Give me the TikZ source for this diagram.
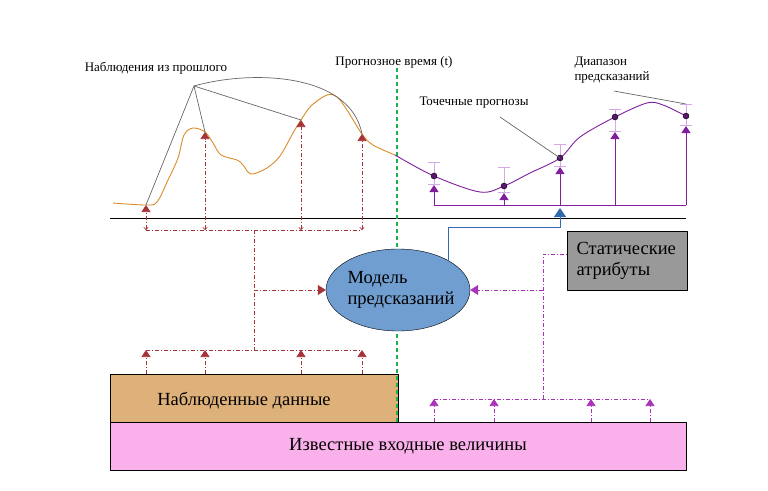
\documentclass[tikz,border=0pt]{standalone}
\usepackage{fontspec}
\setmainfont{Liberation Serif}
\usetikzlibrary{arrows.meta,shapes.geometric}
\definecolor{obsred}{rgb}{0.65,0.2,0.22}
\definecolor{fcpurple}{rgb}{0.5,0.12,0.62}
\definecolor{inpurple}{rgb}{0.66,0.2,0.72}
\definecolor{barlilac}{rgb}{0.84,0.66,0.9}
\definecolor{curveorange}{rgb}{0.85,0.55,0.16}
\definecolor{modelblue}{rgb}{0.44,0.62,0.82}
\definecolor{linkblue}{rgb}{0.2,0.42,0.7}
\definecolor{obstan}{rgb}{0.87,0.69,0.48}
\definecolor{knownpink}{rgb}{0.98,0.69,0.92}
\definecolor{statgray}{rgb}{0.6,0.6,0.6}
\definecolor{timegreen}{rgb}{0.1,0.7,0.3}

\begin{document}
\begin{tikzpicture}[x=1pt,y=-1pt,line join=round,
  small/.style={font=\fontsize{13}{15}\selectfont},
  big/.style={font=\fontsize{18.5}{21}\selectfont},
  obsline/.style={obsred,line width=0.6pt,dash pattern=on 4pt off 2pt on 1pt off 2pt},
  inline/.style={inpurple,line width=0.6pt,dash pattern=on 4pt off 2pt on 1pt off 2pt},
  fcline/.style={fcpurple,line width=0.9pt},
  upTip/.style={-{Triangle[length=7pt,width=9pt]}},
  errbar/.style={barlilac,line width=0.9pt,{Bar[width=12pt]}-{Bar[width=12pt]}},
  pointer/.style={black!60,line width=0.7pt},
  timeline/.style={draw=timegreen,line width=1.1pt,dash pattern=on 4pt off 3pt},
  fcdot/.style={circle,draw=black,fill=fcpurple!70!black,inner sep=0pt,minimum size=6pt}]
\useasboundingbox (0,0) rectangle (768,490);

% boxes
\node[draw,fill=knownpink,minimum width=576pt,minimum height=48pt,inner sep=0pt,anchor=north west] (known) at (110,422) {};
\node[big] at (408,446) {Известные входные величины};
\node[draw,fill=obstan,minimum width=288pt,minimum height=48pt,inner sep=0pt,anchor=south west] (obsdata) at (110,422) {};
\node[big] at (244,401) {Наблюденные данные};
\node[draw,fill=statgray,minimum width=120pt,minimum height=59pt,inner sep=0pt,anchor=north west] (static) at (567,231) {};
\node[big,align=left,anchor=west] at (573,261) {Статические\\атрибуты};

% time axis and forecast time
\draw[line width=0.9pt] (110,218) -- (686,218);
\path[timeline] (397,68) -- (397,422);
\node[small] at (394,62) {Прогнозное время (t)};

\node[ellipse,draw,fill=modelblue,minimum width=144pt,minimum height=82pt,inner sep=0pt] (model) at (398,290) {};
\node[big,align=left] at (401,290) {Модель\\предсказаний};

% observed curve
\coordinate (p1) at (146,205);
\coordinate (p2) at (205,132);
\coordinate (p3) at (301,120);
\coordinate (p4) at (362,134);
\coordinate (apex) at (194,86);
\draw[curveorange,line width=0.9pt] plot[smooth,tension=0.55] coordinates {(113,203) (146,205) (157,202) (168,180) (178,158) (184,135) (193,128) (205,132) (213,143) (221,155) (237,160) (243,165) (248,172) (253,174) (267,168) (280,156) (293,133) (301,120) (311,106) (327,95) (337,97) (347,110) (362,134) (373,145) (395,155)};
\draw[pointer] (p1) -- (apex) -- (p2);
\draw[pointer] (apex) -- (p3);
\draw[pointer] (apex) .. controls (250,70) and (350,72) .. (p4);
\node[small] at (156,68) {Наблюдения из прошлого};

% forecast curve
\coordinate (f1) at (434,176);
\coordinate (f2) at (504,186);
\coordinate (f3) at (560,158);
\coordinate (f4) at (615,117);
\coordinate (f5) at (686,116);
\draw[fcline] plot[smooth,tension=0.55] coordinates {(395,155) (434,176) (480,192) (504,186) (530,173) (560,158) (580,137) (615,117) (647,103) (663,105) (686,116)};
\draw[errbar] (434,162) -- (434,185);
\draw[errbar] (504,167) -- (504,193);
\draw[errbar] (560,144) -- (560,167);
\draw[errbar] (615,109) -- (615,132);
\draw[errbar] (686,104) -- (686,126);
\foreach \f in {f1,f2,f3,f4,f5}
  \node[fcdot] at (\f) {};
\coordinate (fbus) at (434,205);
\draw[fcline] (fbus) -- (686,205);
\draw[fcline,upTip] (fbus) -- (434,185);
\draw[fcline,upTip] (504,205) -- (504,193);
\draw[fcline,upTip] (560,205) -- (560,167);
\draw[fcline,upTip] (615,205) -- (615,132);
\draw[fcline,upTip] (686,205) -- (686,126);
\node[small] at (474,103) {Точечные прогнозы};
\draw[pointer] (500,117) -- (f3);
\node[small,align=left,anchor=west] at (571,70) {Диапазон\\предсказаний};
\draw[pointer] (614,91) -- (686,104);

% model output
\coordinate (bluetip) at (560,208);
\draw[linkblue,line width=0.9pt,-{Triangle[length=9pt,width=12pt]}] (model.30) |- (560,227) -- (bluetip);

% observations into the model
\foreach \p in {p1,p2,p3,p4}
  \draw[obsline,{To[length=3pt,width=5pt]}-{Triangle[length=7pt,width=9pt]}] (\p |- 0,230) -- (\p);
\draw[obsline] (p1 |- 0,230) -- (p4 |- 0,230);
\draw[obsline] (254,230) -- (254,350);
\draw[obsline,-{Triangle[length=8pt,width=10pt]}] (254,290) -- (model.west);
\draw[obsline] (p1 |- 0,350) -- (p4 |- 0,350);
\foreach \p in {p1,p2,p3,p4}
  \draw[obsline,upTip] (\p |- obsdata.north) -- (\p |- 0,350);

% known inputs and static attributes into the model
\draw[inline] (434,399) -- (650,399);
\foreach \x in {434,494,591,650}
  \draw[inline,upTip] (\x,422) -- (\x,399);
\draw[inline] (543,399) -- (543,254) -- (static.west |- 0,254);
\draw[inline,-{Triangle[length=8pt,width=10pt]}] (543,290) -- (model.east);
\end{tikzpicture}
\end{document}
